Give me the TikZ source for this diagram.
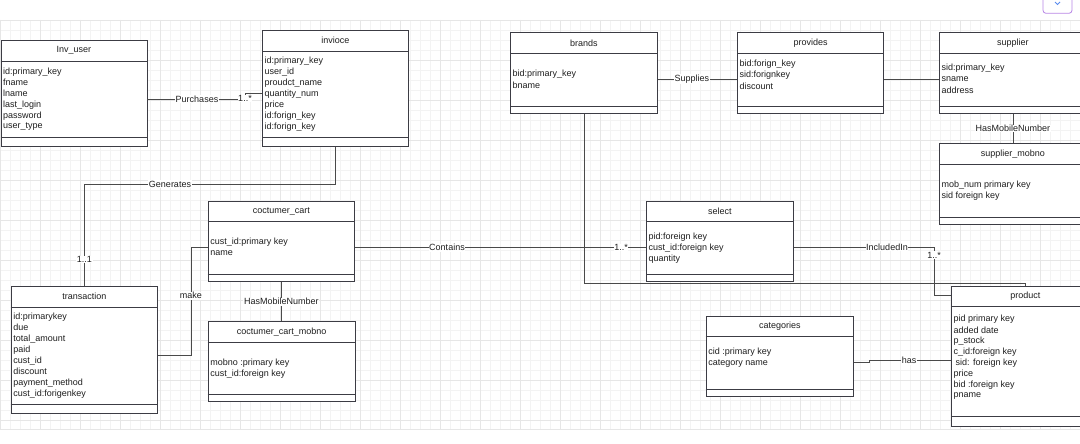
\documentclass[tikz,border=0pt]{standalone}
\usepackage{fontspec}
\setmainfont{Liberation Sans}
\usetikzlibrary{calc}
\definecolor{boxline}{HTML}{3C3C44}
\definecolor{edgeline}{HTML}{4A4A4A}
\definecolor{gridminor}{HTML}{F3F3F3}
\definecolor{gridmajor}{HTML}{E6E6E6}
\definecolor{inktext}{HTML}{1E1E1E}
\definecolor{iconpurple}{HTML}{B886E6}
\definecolor{iconblue}{HTML}{5B8DEF}
\tikzset{
  entbox/.style={draw=boxline, fill=white, line width=0.9pt, rectangle, inner sep=0pt, anchor=north west},
  enttitle/.style={font=\fontsize{9}{11}\selectfont, text=inktext, inner sep=0pt},
  attr/.style={font=\fontsize{9}{11}\selectfont, text=inktext, inner sep=0pt, anchor=west},
  conn/.style={draw=edgeline, line width=0.8pt},
  lbl/.style={font=\fontsize{9}{11}\selectfont, text=inktext, fill=white, inner sep=0.6pt},
}
% name, x, y, width, height, lower strip, title, first row, rows
\newcommand{\entity}[9]{%
\node[entbox, minimum width=#4pt, minimum height=#5pt] (#1) at (#2,#3) {};
\draw[boxline, line width=0.9pt] ($(#1.north west)+(0,21)$) -- ($(#1.north east)+(0,21)$);
\draw[boxline, line width=0.9pt] ($(#1.south west)+(0,-#6)$) -- ($(#1.south east)+(0,-#6)$);
\node[enttitle] (#1-title) at ($(#1.north)+(0,10.5)$) {#7};
\foreach \row [count=\i] in {#9}
  \node[attr] (#1-\i) at ($(#1.north west)+(2.5,{#8+11*(\i-1)})$) {\row};
}

\begin{document}
\begin{tikzpicture}[x=1pt,y=-1pt]
\useasboundingbox (0,0) rectangle (1080,444);
\clip (0,0) rectangle (1080,444);
% background grid
\foreach \gx in {0,10,...,1080}
  \draw[gridminor, line width=0.5pt] (\gx,20) -- (\gx,429);
\foreach \gy in {20,30,...,420}
  \draw[gridminor, line width=0.5pt] (0,\gy) -- (1080,\gy);
\foreach \gx in {0,40,...,1080}
  \draw[gridmajor, line width=0.5pt] (\gx,20) -- (\gx,429);
\foreach \gy in {20,60,...,420}
  \draw[gridmajor, line width=0.5pt] (0,\gy) -- (1080,\gy);
\draw[gridmajor, line width=0.5pt] (0,429) -- (1080,429);
% corner button
\draw[iconpurple, line width=0.8pt, fill=white, rounded corners=3pt] (1043,-5) rectangle (1072,13.3);
\draw[iconblue, line width=1pt] (1055,2) -- (1057.5,4.5) -- (1060,2);

% tables
\entity{user}{0.5}{40}{146}{106}{9.5}{Inv\_user}{31.7}{id:primary\_key, fname, lname, last\_login, password, user\_type}
\entity{invoice}{262}{30}{146}{116}{9.5}{invioce}{31}{id:primary\_key, user\_id, proudct\_name, quantity\_num, price, id:forign\_key, id:forign\_key}
\entity{brands}{510}{32.3}{147}{80.4}{7}{brands}{42}{bid:primary\_key, bname}
\entity{provides}{737}{32.3}{146.3}{80.4}{7}{provides}{32}{bid:forign\_key, sid:forignkey, discount}
\entity{supplier}{939}{32.3}{147}{80.4}{7}{supplier}{36}{sid:primary\_key, sname, address}
\entity{supmob}{939}{143.3}{147}{80.7}{7.3}{supplier\_mobno}{42}{mob\_num primary key, sid foreign key}
\entity{cart}{207.7}{200.7}{146.3}{80.3}{7.3}{coctumer\_cart}{41.6}{cust\_id:primary key, name}
\entity{transaction}{10.7}{286}{146.6}{127.3}{10}{transaction}{30.7}{id:primarykey, due, total\_amount, paid, cust\_id, discount, payment\_method, cust\_id:forigenkey}
\entity{cartmob}{207.7}{321.3}{147}{80}{7.3}{coctumer\_cart\_mobno}{42}{mobno :primary key, cust\_id:foreign key}
\entity{select}{646}{200.7}{147}{80}{7.3}{select}{36}{pid:foreign key, cust\_id:foreign key, quantity}
\entity{categories}{705.7}{315.7}{147.3}{80.3}{7.7}{categories}{36.6}{cid :primary key, category name}
\entity{product}{951}{285.7}{148}{140}{10}{product}{33.3}{pid primary key, added date, p\_stock, c\_id:foreign key, \hspace*{2pt}sid: foreign key, price, bid :foreign key, pname}

% relations
\draw[conn] (user.east |- 0,99.3) -- (245,99.3) |- (invoice.west |- 0,93.3);
\node[lbl] (l-purch) at (197,99.3) {Purchases};
\node[lbl] (l-purch-m) at (245,98.3) {1..*};

\draw[conn] (invoice.south) |- (transaction.north |- 0,184) -- (transaction.north);
\node[lbl] (l-gen) at (170,184) {Generates};
\node[lbl] (l-gen-m) at (transaction.north |- 0,259.3) {1..1};

\draw[conn] (transaction.east |- 0,355) -| (191,247.7) -- (cart.west |- 0,247.7);
\node[lbl] (l-make) at (191,295.7) {make};

\draw[conn] (cart.east |- 0,247.7) -- (select.west |- 0,247.7);
\node[lbl] (l-cont) at (447,247.7) {Contains};
\node[lbl] (l-cont-m) at (621,247.7) {1..*};

\draw[conn] (cart.south) -- node[lbl] (l-cmob) {HasMobileNumber} (cart.south |- cartmob.north);

\draw[conn] (brands.east |- 0,79) -- node[lbl, pos=0.43] (l-sup) {Supplies} (provides.west |- 0,79);
\draw[conn] (provides.east |- 0,79) -- (supplier.west |- 0,79);
\draw[conn] (supplier.south) -- node[lbl] (l-smob) {HasMobileNumber} (supmob.north);

\draw[conn] (brands.south) |- (product.north |- 0,283.3) -- (product.north);

\draw[conn] (select.east |- 0,247.5) -| (934,295.7) -- (product.west |- 0,295.7);
\node[lbl] (l-incl) at (887,247.5) {IncludedIn};
\node[lbl] (l-incl-m) at (934,255) {1..*};

\draw[conn] (categories.east |- 0,362.3) -- (869,362.3) |- (product.west |- 0,360.7);
\node[lbl] (l-has) at (909,360.7) {has};
\end{tikzpicture}
\end{document}
